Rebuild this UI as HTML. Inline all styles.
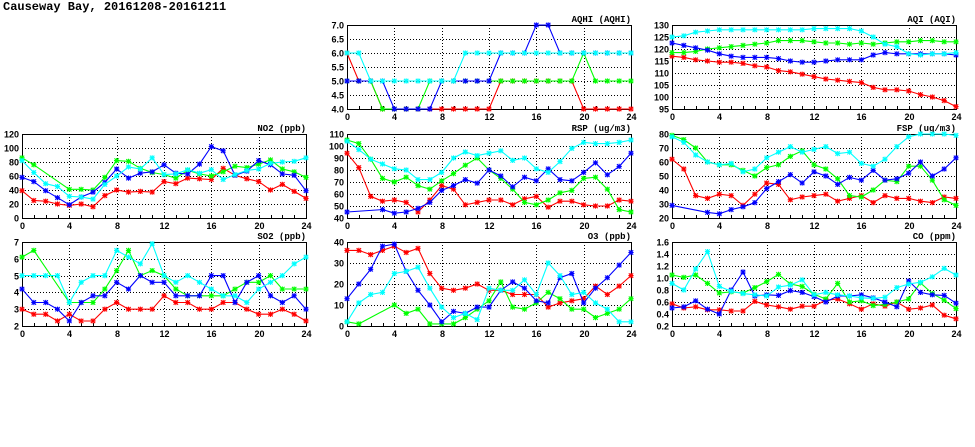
<!DOCTYPE html>
<html><head><meta charset="utf-8"><style>
body{margin:0;background:#fff;width:975px;height:447px;overflow:hidden}
#title{position:absolute;left:3px;top:0px;font:bold 12px "Liberation Mono",monospace;color:#000}
svg{position:absolute;left:0;top:0}
</style></head><body>
<div id="title">Causeway Bay, 20161208-20161211</div>
<svg id="svg" width="975" height="447"></svg>
<script>
const hours=[0,1,2,3,4,5,6,7,8,9,10,11,12,13,14,15,16,17,18,19,20,21,22,23,24];
const xTicks=[0,4,8,12,16,20,24];
const seriesColors=["#ff0000","#00ff00","#0000ff","#00ffff"];
const seriesNames=["red","green","blue","cyan"];

const aqhiTicks=[4,4.5,5,5.5,6,6.5,7];
const aqhiRed=[6,5,5,4,4,4,4,4,4,4,4,4,4,5,5,5,5,5,5,5,4,4,4,4,4];
const aqhiGreen=[5,5,5,4,4,4,4,5,5,5,5,5,5,5,5,5,5,5,5,5,6,5,5,5,5];
const aqhiBlue=[5,5,5,5,4,4,4,4,5,5,5,5,5,6,6,6,7,7,6,6,6,6,6,6,6];
const aqhiCyan=[6,6,5,5,5,5,5,5,5,5,6,6,6,6,6,6,6,6,6,6,6,6,6,6,6];

const aqiTicks=[95,100,105,110,115,120,125,130];
const aqiRed=[117,116.5,115.5,115,114.5,114.5,114,113,112.5,111,110.5,109.5,108.5,107.5,107,106.5,106,104,103,103,102.5,101,100,98.5,96];
const aqiGreen=[118.5,118.5,119,120,120.5,121,121.5,122,122.5,123.5,123.5,123.5,123,122.5,122.5,122,122.5,122,122.5,123,123,123.5,123.5,123,123];
const aqiBlue=[122.5,121.5,120.5,119.5,118,117,116.5,116.5,116.5,116,115,114.5,114.5,115,115.5,115.5,115.5,117.5,118.5,118,118,118,118,118,117.5];
const aqiCyan=[125,125.5,127,127.5,128,128,128,128,128,128,128,128,128.5,128.5,128.5,128.5,127.5,125,122,121,118,117.5,118,118,118.5];

const no2Ticks=[0,20,40,60,80,100,120];
const no2Red=[39,25,24,20,18,20,16,32,40,37,38,37,52,49,57,56,55,71,61,56,52,40,48,38,28];
const no2Green=[86,76,null,null,41,41,40,58,82,81,71,65,62,57,68,63,60,66,74,72,77,83,70,66,58];
const no2Blue=[58,52,39,29,19,30,37,51,70,57,64,66,76,64,63,77,102,96,61,67,82,76,63,61,39];
const no2Cyan=[82,65,49,45,31,30,27,48,60,73,70,86,62,63,69,64,69,55,62,68,70,78,80,81,86];

const rspTicks=[40,50,60,70,80,90,100,110];
const rspRed=[94,82,58,54,55,53,45,55,67,64,51,53,55,55,51,56,58,49,54,54,51,50,50,55,54];
const rspGreen=[105,102,89,73,70,74,67,64,71,77,84,90,80,73,64,53,51,55,61,63,73,74,64,47,45];
const rspBlue=[45,null,null,47,44,45,48,53,63,67,72,69,80,75,66,74,71,81,72,71,78,86,76,83,94];
const rspCyan=[104,97,89,85,81,80,72,72,78,90,95,92,94,96,88,90,81,78,87,98,103,102,102,103,105];

const fspTicks=[20,30,40,50,60,70,80];
const fspRed=[62,55,36,34,37,36,29,37,45,44,33,35,36,37,32,34,36,31,36,34,34,32,31,35,34];
const fspGreen=[79,76,70,60,58,58,54,50,56,58,64,68,58,55,48,36,35,40,47,46,57,57,47,33,29];
const fspBlue=[29,null,null,24,23,26,28,31,41,46,51,45,53,50,44,49,47,54,47,48,52,60,50,55,63];
const fspCyan=[78,74,65,60,58,59,53,55,63,67,71,67,69,71,66,67,59,57,62,71,78,80,80,80,79];

const so2Ticks=[2,3,4,5,6,7];
const so2Red=[3,2.7,2.7,2.3,2.7,2.3,2.3,3,3.4,3,3,3,3.8,3.4,3.4,3,3,3.4,3.4,3,2.7,2.7,3,2.7,2.3];
const so2Green=[6.1,6.5,null,null,3.4,3.4,3.4,4.2,5.3,6.5,5,5.3,5,4.2,3.8,3.8,3.8,3.8,4.2,4.6,4.6,5,4.2,4.2,4.2];
const so2Blue=[4.2,3.4,3.4,3,2.3,3.4,3.8,3.8,4.6,4.2,5,4.6,4.6,3.8,3.8,3.8,5,5,3.4,4.6,5,3.8,3.4,3.8,3];
const so2Cyan=[5,5,5,5,3.4,4.6,5,5,6.5,6.1,5.7,6.9,5,4.6,5,4.6,4.2,3.8,3.8,3.4,4.2,4.6,5,5.7,6.1];

const o3Ticks=[0,10,20,30,40];
const o3Red=[36,36,34,36,38,35,37,25,18,17,18,20,17,17,15,15,15,9,11,12,13,19,15,19,24];
const o3Green=[2,1,null,null,10,6,8,1,1,1,4,8,12,21,9,8,11,16,13,8,8,4,6,8,13];
const o3Blue=[13,20,27,38,39,26,17,10,2,7,6,9,9,17,21,18,12,11,23,25,11,18,23,29,35];
const o3Cyan=[2,11,15,16,25,26,28,18,9,4,6,3,18,17,17,22,15,30,24,15,16,11,8,2,2];

const coTicks=[0.2,0.4,0.6,0.8,1.0,1.2,1.4,1.6];
const coRed=[0.57,0.5,0.52,0.47,0.47,0.45,0.45,0.61,0.55,0.52,0.48,0.53,0.53,0.63,0.65,0.57,0.48,0.57,0.53,0.6,0.48,0.5,0.55,0.38,0.32];
const coGreen=[1.05,1.01,1.05,0.91,0.75,0.77,0.75,0.84,0.94,1.06,0.9,0.86,0.73,0.65,0.91,0.6,0.62,0.54,0.56,0.6,0.65,0.92,0.74,0.63,0.49];
const coBlue=[0.5,0.52,0.62,0.48,0.4,0.8,1.1,0.7,0.72,0.71,0.79,0.76,0.69,0.6,0.7,0.7,0.72,0.67,0.6,0.52,0.95,0.76,0.72,0.71,0.58];
const coCyan=[0.91,0.8,1.15,1.44,0.86,0.78,0.74,0.72,0.7,0.85,0.88,0.97,0.72,0.76,0.72,0.7,0.67,0.66,0.68,0.84,0.9,0.93,1.02,1.16,1.05];

const panels=[
 {id:"aqhi",title:"AQHI (AQHI)",x:347,y:25,ticks:aqhiTicks,dec:1,series:[aqhiRed,aqhiGreen,aqhiBlue,aqhiCyan]},
 {id:"aqi",title:"AQI (AQI)",x:672,y:25,ticks:aqiTicks,dec:0,series:[aqiRed,aqiGreen,aqiBlue,aqiCyan]},
 {id:"no2",title:"NO2 (ppb)",x:22,y:134,ticks:no2Ticks,dec:0,series:[no2Red,no2Green,no2Blue,no2Cyan]},
 {id:"rsp",title:"RSP (ug/m3)",x:347,y:134,ticks:rspTicks,dec:0,series:[rspRed,rspGreen,rspBlue,rspCyan]},
 {id:"fsp",title:"FSP (ug/m3)",x:672,y:134,ticks:fspTicks,dec:0,series:[fspRed,fspGreen,fspBlue,fspCyan]},
 {id:"so2",title:"SO2 (ppb)",x:22,y:242,ticks:so2Ticks,dec:0,series:[so2Red,so2Green,so2Blue,so2Cyan]},
 {id:"o3",title:"O3 (ppb)",x:347,y:242,ticks:o3Ticks,dec:0,series:[o3Red,o3Green,o3Blue,o3Cyan]},
 {id:"co",title:"CO (ppm)",x:672,y:242,ticks:coTicks,dec:1,series:[coRed,coGreen,coBlue,coCyan]}
];
const W=284,H=84;
const NS="http://www.w3.org/2000/svg";
const svg=document.getElementById("svg");
function mk(tag,attrs,parent){const e=document.createElementNS(NS,tag);for(const k in attrs)e.setAttribute(k,attrs[k]);parent.appendChild(e);return e;}
panels.forEach(p=>{
  const g=mk("g",{},svg);
  
  
  const ymin=p.ticks[0],ymax=p.ticks[p.ticks.length-1];
  const sx=h=>p.x+h/24*W;
  const sy=v=>p.y+H-(v-ymin)/(ymax-ymin)*H;
  p.ticks.forEach((t,i)=>{
    const yy=Math.round(sy(t))+0.5;
    if(i>0&&i<p.ticks.length-1){
      const l=mk("line",{x1:p.x,x2:p.x+W,y1:yy,y2:yy,stroke:"#000","stroke-width":1,"stroke-dasharray":"1,2"},g);
      
      
    }
    const tx=mk("text",{x:p.x-3,y:yy+3,"text-anchor":"end","font-size":"9","font-weight":"bold","font-family":"Liberation Sans, sans-serif"},g);
    tx.textContent=t.toFixed(p.dec);
    
    
  });
  xTicks.forEach((t,i)=>{
    const xx=Math.round(sx(t))+0.5;
    if(i>0&&i<xTicks.length-1){
      const l=mk("line",{x1:xx,x2:xx,y1:p.y,y2:p.y+H,stroke:"#000","stroke-width":1,"stroke-dasharray":"1,2"},g);
      
      
    }
    const tx=mk("text",{x:xx,y:p.y+H+11,"text-anchor":"middle","font-size":"9","font-weight":"bold","font-family":"Liberation Sans, sans-serif"},g);
    tx.textContent=t;
    
    
  });
  hours.forEach(h=>{
    const xx=Math.round(sx(h))+0.5;
    const l=mk("line",{x1:xx,x2:xx,y1:p.y+H,y2:p.y+H-3,stroke:"#000"},g);
    
    
  });
  const fr=mk("rect",{x:p.x+0.5,y:p.y+0.5,width:W,height:H,fill:"none",stroke:"#000"},g);
  
  
  const tt=mk("text",{x:p.x+W,y:p.y-3,"text-anchor":"end","font-size":"9","font-weight":"bold","font-family":"Liberation Mono, monospace"},g);
  tt.textContent=p.title;
  
  
  p.series.forEach((vals,si)=>{
    const col=seriesColors[si];
    const sg=mk("g",{},g);
    
    
    let d="";
    hours.forEach((h,i)=>{const v=vals[i];if(v===null||v===undefined)return;d+=(d?"L":"M")+sx(h).toFixed(1)+","+sy(v).toFixed(1);});
    const pl=mk("path",{d:d,fill:"none",stroke:col,"stroke-width":1.1},sg);
    
    
    hours.forEach((h,i)=>{
      const v=vals[i];if(v===null||v===undefined)return;
      const cx=sx(h),cy=sy(v),r=2.2;
      const m=mk("path",{d:`M${cx-r},${cy-r}L${cx+r},${cy+r}M${cx-r},${cy+r}L${cx+r},${cy-r}M${cx},${cy-r-0.4}L${cx},${cy+r+0.4}M${cx-r-0.4},${cy}L${cx+r+0.4},${cy}`,stroke:col,"stroke-width":1.1,fill:"none"},sg);
      
      
    });
  });
});
</script>
</body></html>
